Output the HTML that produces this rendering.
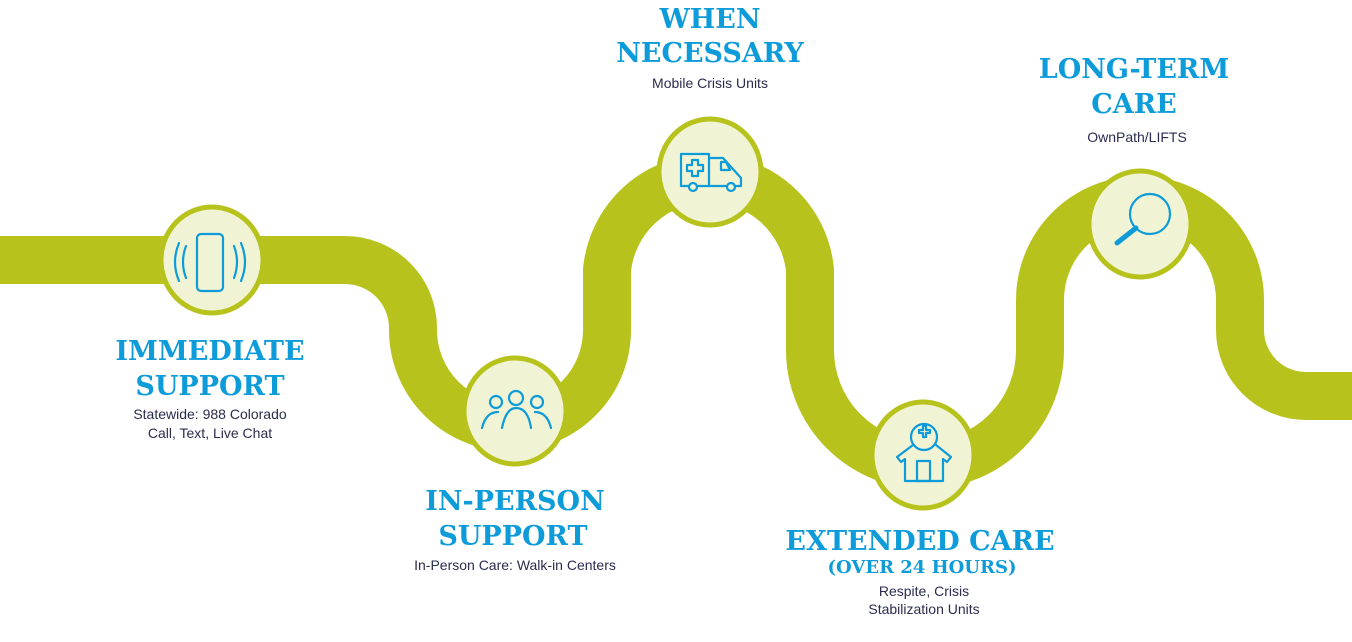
<!DOCTYPE html>
<html><head><meta charset="utf-8"><style>
html,body{margin:0;padding:0;background:#fff;}
svg{display:block;}
.t{font-family:"DejaVu Serif","Liberation Serif",serif;font-weight:bold;fill:#0d9bd9;text-anchor:middle;font-size:27px;}
.s{font-family:"Liberation Sans","DejaVu Sans",sans-serif;fill:#2b2c4e;text-anchor:middle;font-size:14px;}
.ic{fill:none;stroke:#0d9bd9;stroke-width:2.2;stroke-linecap:round;stroke-linejoin:round;}
</style></head><body>
<svg width="1352" height="642" viewBox="0 0 1352 642" xmlns="http://www.w3.org/2000/svg">
<path d="M0 260 H345 A68 68 0 0 1 413 328 V330 A97 97 0 0 0 607 330 V270 A102 102 0 0 1 810 270 V350 A115 115 0 0 0 1040 350 V300 A100 100 0 0 1 1240 300 V330 A66 66 0 0 0 1306 396 H1352" fill="none" stroke="#b7c31c" stroke-width="48"/>
<g fill="#f1f4d4" stroke="#b7c31c" stroke-width="5">
<ellipse cx="212" cy="260" rx="51" ry="53"/>
<ellipse cx="515" cy="411" rx="51" ry="53"/>
<ellipse cx="710" cy="172" rx="51" ry="53"/>
<ellipse cx="923" cy="455" rx="51" ry="53"/>
<ellipse cx="1140" cy="224" rx="51" ry="53"/>
</g>
<g class="ic">
<rect x="197" y="234" width="26" height="57" rx="4"/>
<path d="M186 246 Q180 262 186 278"/><path d="M179 243 Q171 262 179 281"/>
<path d="M234 246 Q240 262 234 278"/><path d="M241 243 Q249 262 241 281"/>
</g>
<g class="ic">
<circle cx="496" cy="402" r="6"/><circle cx="516" cy="398" r="7"/><circle cx="537" cy="402" r="6"/>
<path d="M482 428 Q486 412 498 412"/><path d="M502 428 Q506 408 516 408 Q528 408 531 428"/><path d="M535 412 Q547 412 551 428"/>
</g>
<g class="ic">
<rect x="681" y="154" width="28" height="32"/>
<path d="M709 158 H723 L741 178 V186 H709"/>
<path d="M721 162 H726 L730 170 H721 Z"/>
<path d="M692 160 h6 v5 h5 v6 h-5 v5 h-6 v-5 h-5 v-6 h5 Z"/>
<circle cx="693" cy="187" r="4" fill="#f1f4d4"/><circle cx="731" cy="187" r="4" fill="#f1f4d4"/>
</g>
<g class="ic">
<circle cx="924" cy="437" r="13"/>
<path d="M919 430 h4 v-4 h3 v4 h4 v3 h-4 v4 h-3 v-4 h-4 Z"/>
<path d="M913 445 L897 457 L901 462 L905 459 V481 H943 V459 L947 462 L951 457 L936 445"/>
<rect x="917" y="461" width="13" height="20"/>
</g>
<g class="ic" stroke-width="2.5">
<circle cx="1150" cy="214" r="20"/>
<path d="M1136 228 L1117 243" stroke-width="5"/>
</g>
<text class="t" x="210" y="360">IMMEDIATE</text>
<text class="t" x="210" y="395">SUPPORT</text>
<text class="s" x="210" y="419">Statewide: 988 Colorado</text>
<text class="s" x="210" y="438">Call, Text, Live Chat</text>
<text class="t" x="515" y="510">IN-PERSON</text>
<text class="t" x="513" y="545">SUPPORT</text>
<text class="s" x="515" y="570">In-Person Care: Walk-in Centers</text>
<text class="t" x="710" y="28">WHEN</text>
<text class="t" x="710" y="62">NECESSARY</text>
<text class="s" x="710" y="88">Mobile Crisis Units</text>
<text class="t" x="1134" y="78">LONG-TERM</text>
<text class="t" x="1134" y="113">CARE</text>
<text class="s" x="1137" y="142">OwnPath/LIFTS</text>
<text class="t" x="920" y="550">EXTENDED CARE</text>
<text class="t" x="922" y="573" style="font-size:18px">(OVER 24 HOURS)</text>
<text class="s" x="924" y="596">Respite, Crisis</text>
<text class="s" x="924" y="614">Stabilization Units</text>
</svg>
</body></html>
